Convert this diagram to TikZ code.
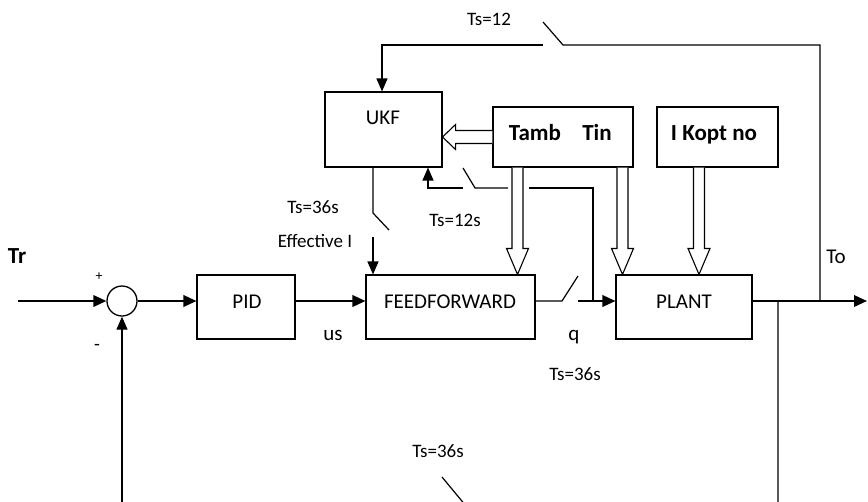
\documentclass[tikz,border=0pt]{standalone}
\usepackage{fontspec}
\setmainfont{Carlito}
\usetikzlibrary{arrows.meta,calc}
\newcommand\hollowdown[2]{%
  \draw[hol] ([xshift=-5.5pt]#1) -- ([xshift=-5.5pt,yshift=26pt]#2) -- ([xshift=-11pt,yshift=26pt]#2) -- (#2) -- ([xshift=11pt,yshift=26pt]#2) -- ([xshift=5.5pt,yshift=26pt]#2) -- ([xshift=5.5pt]#1);}
\begin{document}
\begin{tikzpicture}[x=1pt,y=-1pt,
  box/.style={draw,line width=1.1pt,inner sep=0pt},
  sig/.style={line width=2pt,-{Triangle[length=13pt,width=11.5pt]}},
  tsig/.style={line width=1.2pt,-{Triangle[length=13pt,width=11pt]}},
  wire/.style={line width=1.2pt},
  hol/.style={line width=1.1pt,line join=miter,fill=white},
  lbl/.style={anchor=base,inner sep=0pt,font=\fontsize{21}{25}\selectfont},
  sml/.style={anchor=base,inner sep=0pt,font=\fontsize{19}{23}\selectfont},
  bld/.style={anchor=base,inner sep=0pt,font=\fontsize{23}{27}\selectfont\bfseries},
]
\useasboundingbox (0,0) rectangle (868,501);
\clip (0,0) rectangle (868,501);
\fill[white] (0,0) rectangle (868,501);

% boxes
\node[box,minimum width=117pt,minimum height=75pt] (ukf) at (383.5,129.5) {};
\node[box,minimum width=140pt,minimum height=60pt] (tt) at (563,137) {};
\node[box,minimum width=121pt,minimum height=60pt] (ik) at (717.5,137) {};
\node[box,minimum width=98pt,minimum height=64pt] (pid) at (246,307) {};
\node[box,minimum width=169pt,minimum height=64pt] (ff) at (450.5,307) {};
\node[box,minimum width=136pt,minimum height=64pt] (plant) at (684,307) {};
\node[draw,circle,minimum size=30pt,inner sep=0pt,line width=1.3pt] (sum) at (122,301) {};

% coordinates
\coordinate (in) at (18,301);
\coordinate (out) at (867,301);
\coordinate (q1) at (562,301);
\coordinate (q2) at (578,276);
\coordinate (q3) at (578,301);
\coordinate (j1) at (820,301);
\coordinate (t1) at (820,45);
\coordinate (t2) at (563,45);
\coordinate (t3) at (543,22);
\coordinate (t4) at (543,45);
\coordinate (t5) at (382,45);
\coordinate (j2) at (778,301);
\coordinate (b1) at (778,506);
\coordinate (b3) at (466,506);
\coordinate (b4) at (442,477);
\coordinate (b5) at (442,506);
\coordinate (b2) at (122,506);
\coordinate (u0) at (373,167);
\coordinate (u1) at (373,213);
\coordinate (u2) at (389,230);
\coordinate (u3) at (373,237);
\coordinate (v0) at (593,301);
\coordinate (v1) at (593,188);
\coordinate (v2) at (529,188);
\coordinate (v3) at (508,188);
\coordinate (v4) at (475,188);
\coordinate (v5) at (463,168);
\coordinate (v6) at (463,188);
\coordinate (v7) at (428,188);
\coordinate (c517) at (517.5,0);
\coordinate (c623) at (622.5,0);
\coordinate (c699) at (699,0);
\coordinate (h1s) at (tt.south -| c517);
\coordinate (h1t) at (ff.north -| c517);
\coordinate (h2s) at (tt.south -| c623);
\coordinate (h2t) at (plant.north -| c623);
\coordinate (h3s) at (ik.south -| c699);
\coordinate (h3t) at (plant.north -| c699);
\coordinate (hLt) at (ukf.east |- tt.west);

% main path
\draw[sig] (in) -- (sum.west);
\draw[sig] (sum.east) -- (sum.east -| pid.west);
\draw[sig] (sum.east -| pid.east) -- (sum.east -| ff.west);
\draw[wire] (sum.east -| ff.east) -- (q1) -- (q2);
\draw[sig] (q3) -- (q3 -| plant.west);
\draw[sig] (sum.east -| plant.east) -- (out);

% top loop to UKF
\draw[wire] (j1) -- (t1) -- (t2) -- (t3);
\draw[tsig] (t4) -- (t5) -- (t5 |- ukf.north);

% feedback
\draw[wire] (j2) -- (b1) -- (b3) -- (b4);
\draw[tsig] (b5) -- (b2) -- (sum.south);

% UKF to feedforward
\draw[wire] (u0) -- (u1) -- (u2);
\draw[tsig] (u3) -- (u3 |- ff.north);

% q back to UKF
\draw[wire] (v0) -- (v1) -- (v2);
\draw[wire] (v3) -- (v4) -- (v5);
\draw[tsig] (v6) -- (v7) -- (v7 |- ukf.south);

% hollow arrows
\hollowdown{h1s}{h1t}
\hollowdown{h2s}{h2t}
\hollowdown{h3s}{h3t}
\draw[hol] ([yshift=6.5pt]tt.west) -- ([xshift=13pt,yshift=6.5pt]hLt) -- ([xshift=13pt,yshift=12.5pt]hLt) -- (hLt) -- ([xshift=13pt,yshift=-12.5pt]hLt) -- ([xshift=13pt,yshift=-6.5pt]hLt) -- ([yshift=-6.5pt]tt.west);

% labels
\node[lbl] at (383,124) {UKF};
\node[bld] at (535,140) {Tamb};
\node[bld] at (597,140) {Tin};
\node[bld] at (714,140) {I Kopt no};
\node[lbl] at (247,308) {PID};
\node[lbl] at (450,308) {FEEDFORWARD};
\node[lbl] at (684,308) {PLANT};
\node[bld] at (17,263) {Tr};
\node[anchor=base,inner sep=0pt,font=\fontsize{14}{16}\selectfont] at (99,280) {+};
\node[sml] at (97,350) {-};
\node[lbl] at (333,340) {us};
\node[lbl] at (574,340) {q};
\node[sml] at (575,380) {Ts=36s};
\node[lbl] at (836,263) {To};
\node[sml] at (489,25) {Ts=12};
\node[sml] at (455,226) {Ts=12s};
\node[sml] at (313,213) {Ts=36s};
\node[sml] at (315,247) {Effective I};
\node[sml] at (438,457) {Ts=36s};
\end{tikzpicture}
\end{document}
